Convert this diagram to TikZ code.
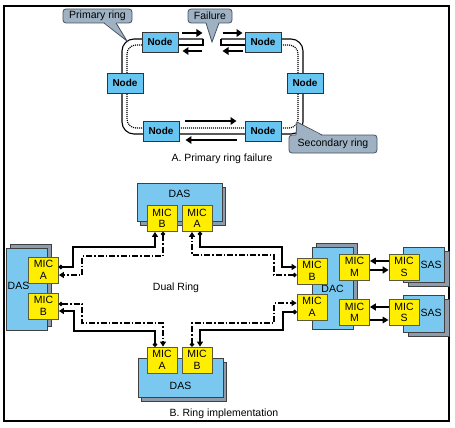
\documentclass[tikz,border=0pt]{standalone}
\usepackage{fontspec}
\setmainfont{Liberation Sans}
\usetikzlibrary{arrows.meta}
\definecolor{nodeblue}{RGB}{104,196,240}
\definecolor{dasblue}{RGB}{122,200,240}
\definecolor{callfill}{RGB}{158,178,196}
\definecolor{callline}{RGB}{70,80,92}
\definecolor{micyellow}{RGB}{255,238,0}
\definecolor{micline}{RGB}{90,90,60}
\definecolor{shadowgray}{RGB}{140,156,172}
\begin{document}
\begin{tikzpicture}[x=1pt,y=-1pt,font=\fontsize{10.5}{12}\selectfont,
  ringnode/.style={draw=black!80,fill=nodeblue,line width=0.9pt,minimum width=36pt,minimum height=20pt,inner sep=0pt,font=\fontsize{10}{12}\selectfont\bfseries},
  mic/.style={draw=micline,fill=micyellow,line width=0.8pt,minimum width=30pt,minimum height=26pt,inner sep=0pt,align=center,font=\fontsize{10.5}{11.5}\selectfont},
  frontbox/.style={draw=black!75,fill=dasblue,line width=0.8pt,inner sep=0pt},
  shadowbox/.style={draw=black!75,fill=shadowgray,line width=0.8pt,inner sep=0pt},
  callout/.style={draw=callline,fill=callfill,line width=0.8pt,rounded corners=3pt},
  calledge/.style={draw=callline,line width=0.8pt},
  bigarrow/.style={line width=2.6pt,-{Triangle[length=6pt,width=7.5pt]}},
  prim/.style={line width=2.4pt,{Circle[length=4pt]}-{Triangle[length=5pt,width=6pt]}},
  sec/.style={line width=1.8pt,dash pattern=on 6pt off 2pt on 1.5pt off 2pt,{Circle[length=4pt]}-{Triangle[length=5pt,width=6pt]}},
  thinarr/.style={line width=1.5pt,-{Triangle[length=6pt,width=6.5pt]}},
  thickarr/.style={line width=2.5pt,-{Triangle[length=6pt,width=7pt]}},
  ringline/.style={line width=1.1pt},
  ringdot/.style={line width=1.2pt,dash pattern=on 1pt off 1pt},
]
\useasboundingbox (0,0) rectangle (455,428);
\draw[line width=1.3pt] (4,6) rectangle (449,421);

% ---------- Part A ----------
\draw[ringline,rounded corners=12pt] (203,39) -- (122,39) -- (122,134) -- (303,134) -- (303,39) -- (221,39);
\draw[ringdot,rounded corners=9pt] (178,45) -- (127,45) -- (127,128) -- (298,128) -- (298,45) -- (245,45);
\draw[ringline] (178,45) -- (203,45) -- (203,39);
\draw[ringline] (245,45) -- (221,45) -- (221,39);

\node[ringnode] (n1) at (160,42) {Node};
\node[ringnode] (n2) at (263,42) {Node};
\node[ringnode] (n3) at (125,83) {Node};
\node[ringnode] (n4) at (305,83) {Node};
\node[ringnode] (n5) at (161,131) {Node};
\node[ringnode] (n6) at (263,131) {Node};

\draw[bigarrow] ([xshift=4pt,yshift=9pt]n1.east) -- ([xshift=24pt,yshift=9pt]n1.east);
\draw[bigarrow] ([xshift=24pt,yshift=-9pt]n1.east) -- ([xshift=4pt,yshift=-9pt]n1.east);
\draw[bigarrow] ([xshift=-22pt,yshift=9pt]n2.west) -- ([xshift=-2pt,yshift=9pt]n2.west);
\draw[bigarrow] ([xshift=-2pt,yshift=-9pt]n2.west) -- ([xshift=-22pt,yshift=-9pt]n2.west);
\draw[bigarrow] ([xshift=6pt,yshift=10pt]n5.east) -- ([xshift=-8pt,yshift=10pt]n6.west);
\draw[bigarrow] ([xshift=-8pt,yshift=-9pt]n6.west) -- ([xshift=6pt,yshift=-9pt]n5.east);

% callouts
\draw[callout] (63,9) rectangle (132,23);
\fill[callfill] (104,22) -- (127,41) -- (116,22) -- cycle;
\draw[calledge] (104,23) -- (127,41) -- (116,23);
\node (cpr) at (97.5,16) {Primary ring};

\draw[callout] (188,9) rectangle (232,23);
\fill[callfill] (206,22) -- (212,42) -- (219,22) -- cycle;
\draw[calledge] (206,23) -- (212,42) -- (219,23);
\node (cfa) at (210,16) {Failure};

\draw[callout] (289,135) rectangle (377,153);
\fill[callfill] (296,136) -- (297,122) -- (322,136) -- cycle;
\draw[calledge] (296,135) -- (297,122) -- (322,135);
\node (cse) at (333,144) {Secondary ring};

\node (capA) at (222,159) {A. Primary ring failure};

% ---------- Part B ----------
\node[shadowbox,minimum width=85pt,minimum height=38pt] (dasTs) at (182.5,206) {};
\node[frontbox,minimum width=85pt,minimum height=38pt] (dasT) at (179.5,202) {};
\node (dasTt) at (179.5,194) {DAS};

\node[shadowbox,minimum width=41pt,minimum height=82pt] (dasLs) at (30.5,285) {};
\node[frontbox,minimum width=41pt,minimum height=82pt] (dasL) at (26.5,289) {};
\node (dasLt) at (18.5,286) {DAS};

\node[shadowbox,minimum width=41pt,minimum height=82pt] (dacs) at (336.5,284) {};
\node[frontbox,minimum width=41pt,minimum height=82pt] (dac) at (332.5,288) {};
\node (dact) at (332.5,289) {DAC};

\node[shadowbox,minimum width=85pt,minimum height=39pt] (dasBs) at (183.5,381.5) {};
\node[frontbox,minimum width=85pt,minimum height=39pt] (dasB) at (180.5,377.5) {};
\node (dasBt) at (180.5,386) {DAS};

\node[shadowbox,minimum width=41pt,minimum height=35pt] (sasTs) at (428.5,268.5) {};
\node[frontbox,minimum width=41pt,minimum height=35pt] (sasT) at (423.5,264.5) {};
\node (sasTt) at (431,265) {SAS};

\node[shadowbox,minimum width=41pt,minimum height=37pt] (sasBs) at (428.5,317.5) {};
\node[frontbox,minimum width=41pt,minimum height=37pt] (sasB) at (423.5,313.5) {};
\node (sasBt) at (431,313) {SAS};

% MICs
\node[mic] (lA) at (43.5,270) {MIC\\A};
\node[mic] (lB) at (43.5,306) {MIC\\B};
\node[mic] (tB) at (162,218.5) {MIC\\B};
\node[mic] (tA) at (197,218.5) {MIC\\A};
\node[mic] (bA) at (162,360) {MIC\\A};
\node[mic] (bB) at (197,360) {MIC\\B};
\node[mic] (rB) at (312,271) {MIC\\B};
\node[mic] (rA) at (312,307) {MIC\\A};
\node[mic] (mT) at (354.5,267) {MIC\\M};
\node[mic] (mB) at (354.5,312.5) {MIC\\M};
\node[mic] (sT) at (404,267) {MIC\\S};
\node[mic] (sB) at (404,312.5) {MIC\\S};

% dual ring links
\draw[prim] ([yshift=3pt]lA.east) -| (73,247) -| ([xshift=-7pt]tB.south);
\draw[sec] ([xshift=1pt]tB.south) |- (82,256) |- ([yshift=-5pt]lA.east);

\draw[prim] ([xshift=3pt]tA.south) |- (282,247) |- ([yshift=4pt]rB.west);
\draw[sec] ([yshift=-4pt]rB.west) -| (274,255) -| ([xshift=-5pt]tA.south);

\draw[prim] ([yshift=-5pt]rA.west) -| (283,330) -| ([xshift=3pt]bB.north);
\draw[sec] ([xshift=-5pt]bB.north) |- (274,323) |- ([yshift=4pt]rA.west);

\draw[prim] ([xshift=-7pt]bA.north) |- (74,331) |- ([yshift=-5pt]lB.east);
\draw[sec] ([yshift=2pt]lB.east) -| (82,323) -| ([xshift=1pt]bA.north);

% M - S links
\draw[thinarr] ([yshift=6pt]sT.west) -- ([yshift=6pt]mT.east);
\draw[thickarr] ([yshift=-3pt]mT.east) -- ([yshift=-3pt]sT.west);
\draw[thickarr] ([yshift=5.5pt]sB.west) -- ([yshift=5.5pt]mB.east);
\draw[thinarr] ([yshift=-7.5pt]mB.east) -- ([yshift=-7.5pt]sB.west);

\node (dual) at (176,288) {Dual Ring};
\node (capB) at (224,414) {B. Ring implementation};
\end{tikzpicture}
\end{document}
